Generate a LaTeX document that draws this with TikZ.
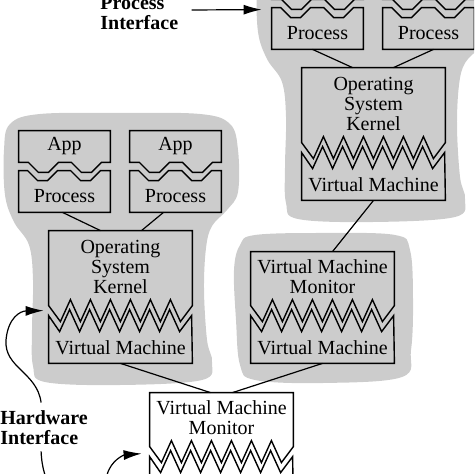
\documentclass[tikz,border=0pt]{standalone}
\usepackage{fontspec}
\setmainfont{Liberation Serif}
\usetikzlibrary{calc,arrows.meta,positioning}

\definecolor{blobgray}{gray}{0.8}

\tikzset{
	boxline/.style = {draw, line width = 0.7pt, line join = miter},
	conn/.style = {line width = 0.6pt},
	pointer/.style = {line width = 0.6pt, -{Latex[length = 9pt, width = 5pt]}},
	boxtext/.style = {inner sep = 0pt, align = center, font = \fontsize{10}{10}\selectfont},
	appbox/.style = {boxtext, minimum width = 45.5pt, minimum height = 15.5pt},
	widebox/.style = {boxtext, minimum width = 71.5pt},
	tag/.style = {inner sep = 0pt, align = left, font = \fontsize{10}{10}\selectfont\bfseries}
}

% shaded group behind one stack
\newcommand{\stackblob}[1]{\fill[#1] plot[smooth cycle, tension = 0.6] coordinates {(120,113) (200,114) (230,124) (238,150) (238,192) (227,210) (212,226) (206,248) (204,290) (207,340) (212,362) (202,380) (120,385) (45,382) (33,366) (32,330) (33,280) (29,245) (14,222) (5,195) (4,150) (10,124) (40,114)};}
% box with wavy bottom
\newcommand{\appshape}[1]{\draw[boxline] (#1.south west) -- (#1.north west) -- (#1.north east) -- (#1.south east) -- ++(-9,0) -- ++(-10,10) -- ++(-10,0) -- ++(-10,-10) -- ++(-13,0) -- ++(-10,10) -- ++(-10,0) -- ++(-10,-10) -- cycle;}
% box with wavy top
\newcommand{\procshape}[1]{\draw[boxline] (#1.south west) -- ($(#1.north west)+(0,-10)$) -- ++(9,0) -- ++(10,10) -- ++(10,0) -- ++(10,-10) -- ++(13,0) -- ++(10,10) -- ++(10,0) -- ++(10,-10) -- ($(#1.north east)+(0,-10)$) -- (#1.south east) -- cycle;}
% box with zigzag bottom, #1 upper node, #2 lower node
\newcommand{\kernelshape}[2]{\draw[boxline] ($(#2.north west)+(0,-26)$) -- (#1.north west) -- (#1.north east) -- ($(#2.north east)+(0,-26)$) -- ++(-12,16) \foreach \k in {1,...,6} {-- ++(-10,-22) -- ++(-10,22)} -- cycle;}
% box with zigzag top
\newcommand{\vmshape}[1]{\draw[boxline] ($(#1.north west)+(0,-16)$) -- ++(11,16) \foreach \k in {1,...,6} {-- ++(10,-22) -- ++(10,22)} -- ++(12,-16) -- (#1.south east) -- (#1.south west) -- cycle;}

\begin{document}
\begin{tikzpicture}[x = 0.5pt, y = -0.5pt]
	\useasboundingbox (0,0) rectangle (474,474);
	\clip (0,0) rectangle (474,474);
	% shaded groups
	\stackblob{blobgray}
	\begin{scope}[shift = {(253,-163)}]
		\stackblob{blobgray}
	\end{scope}
	\fill[blobgray] plot[smooth cycle, tension = 0.6] coordinates {(323,233) (395,235) (410,250) (413,300) (411,350) (402,377) (323,383) (255,380) (240,365) (236,320) (234,270) (240,245) (255,235)};
	% left stack
	\node[appbox] (la1) at (64.5,146.5) {App};
	\node[appbox] (la2) at (175.5,146.5) {App};
	\node[appbox] (lp1) at (64.5,196.5) {Process};
	\node[appbox] (lp2) at (175.5,196.5) {Process};
	\node[widebox, minimum height = 36pt] (los) at (120.5,267) {Operating\\System\\Kernel};
	\node[widebox, minimum height = 15.5pt] (lvm) at (120.5,347.5) {Virtual Machine};
	% right stack
	\node[appbox] (ra1) at (317.5,-16.5) {};
	\node[appbox] (ra2) at (428.5,-16.5) {};
	\node[appbox] (rp1) at (317.5,33.5) {Process};
	\node[appbox] (rp2) at (428.5,33.5) {Process};
	\node[widebox, minimum height = 36pt] (ros) at (373.5,104) {Operating\\System\\Kernel};
	\node[widebox, minimum height = 15.5pt] (rvm) at (373.5,184.5) {Virtual Machine};
	% monitors
	\node[widebox, minimum height = 24.5pt] (mvmm) at (322.5,276.5) {Virtual Machine\\Monitor};
	\node[widebox, minimum height = 15.5pt] (mvm) at (322.5,347.5) {Virtual Machine};
	\node[widebox, minimum height = 24.5pt] (bvmm) at (221.5,417.5) {Virtual Machine\\Monitor};
	\node[widebox, minimum height = 15.5pt] (bvm) at (221.5,488.5) {};
	% outlines
	\appshape{la1}
	\appshape{la2}
	\procshape{lp1}
	\procshape{lp2}
	\kernelshape{los}{lvm}
	\vmshape{lvm}
	\appshape{ra1}
	\appshape{ra2}
	\procshape{rp1}
	\procshape{rp2}
	\kernelshape{ros}{rvm}
	\vmshape{rvm}
	\kernelshape{mvmm}{mvm}
	\vmshape{mvm}
	\kernelshape{bvmm}{bvm}
	\vmshape{bvm}
	% connectors
	\draw[conn] ($(lp1.south)+(-2,0)$) -- ($(los.north)+(-20,0)$);
	\draw[conn] ($(lp2.south)+(-12,0)$) -- ($(los.north)+(21,0)$);
	\draw[conn] ($(rp1.south)+(-5,0)$) -- ($(ros.north)+(-21,0)$);
	\draw[conn] ($(rp2.south)+(5,0)$) -- ($(ros.north)+(20,0)$);
	\draw[conn] (rvm.south) -- ($(mvmm.north)+(10,0)$);
	\draw[conn] (lvm.south) -- ($(bvmm.north)+(-11,0)$);
	\draw[conn] (mvm.south) -- ($(bvmm.north)+(11,0)$);
	% interface labels
	\node[tag, anchor = west] (pif) at (100,13) {Process\\Interface};
	\draw[pointer] ($(pif.east)+(13,-3)$) -- ($(rp1.north west)+(-10,-8)$);
	\node[tag, anchor = west] (hwif) at (0,428) {Hardware\\Interface};
	\draw[pointer] ($(hwif.north)+(-3,-8)$) .. controls (37,372) and (4,368) .. (6,340) .. controls (8,318) and (20,311) .. ($(lvm.north west)+(-5,-21)$);
	\draw[pointer] ($(hwif.south)+(-3,6)$) .. controls (44,520) and (102,510) .. (107,475) .. controls (111,460) and (124,455) .. ($(bvm.north west)+(-8,-19)$);
\end{tikzpicture}
\end{document}
